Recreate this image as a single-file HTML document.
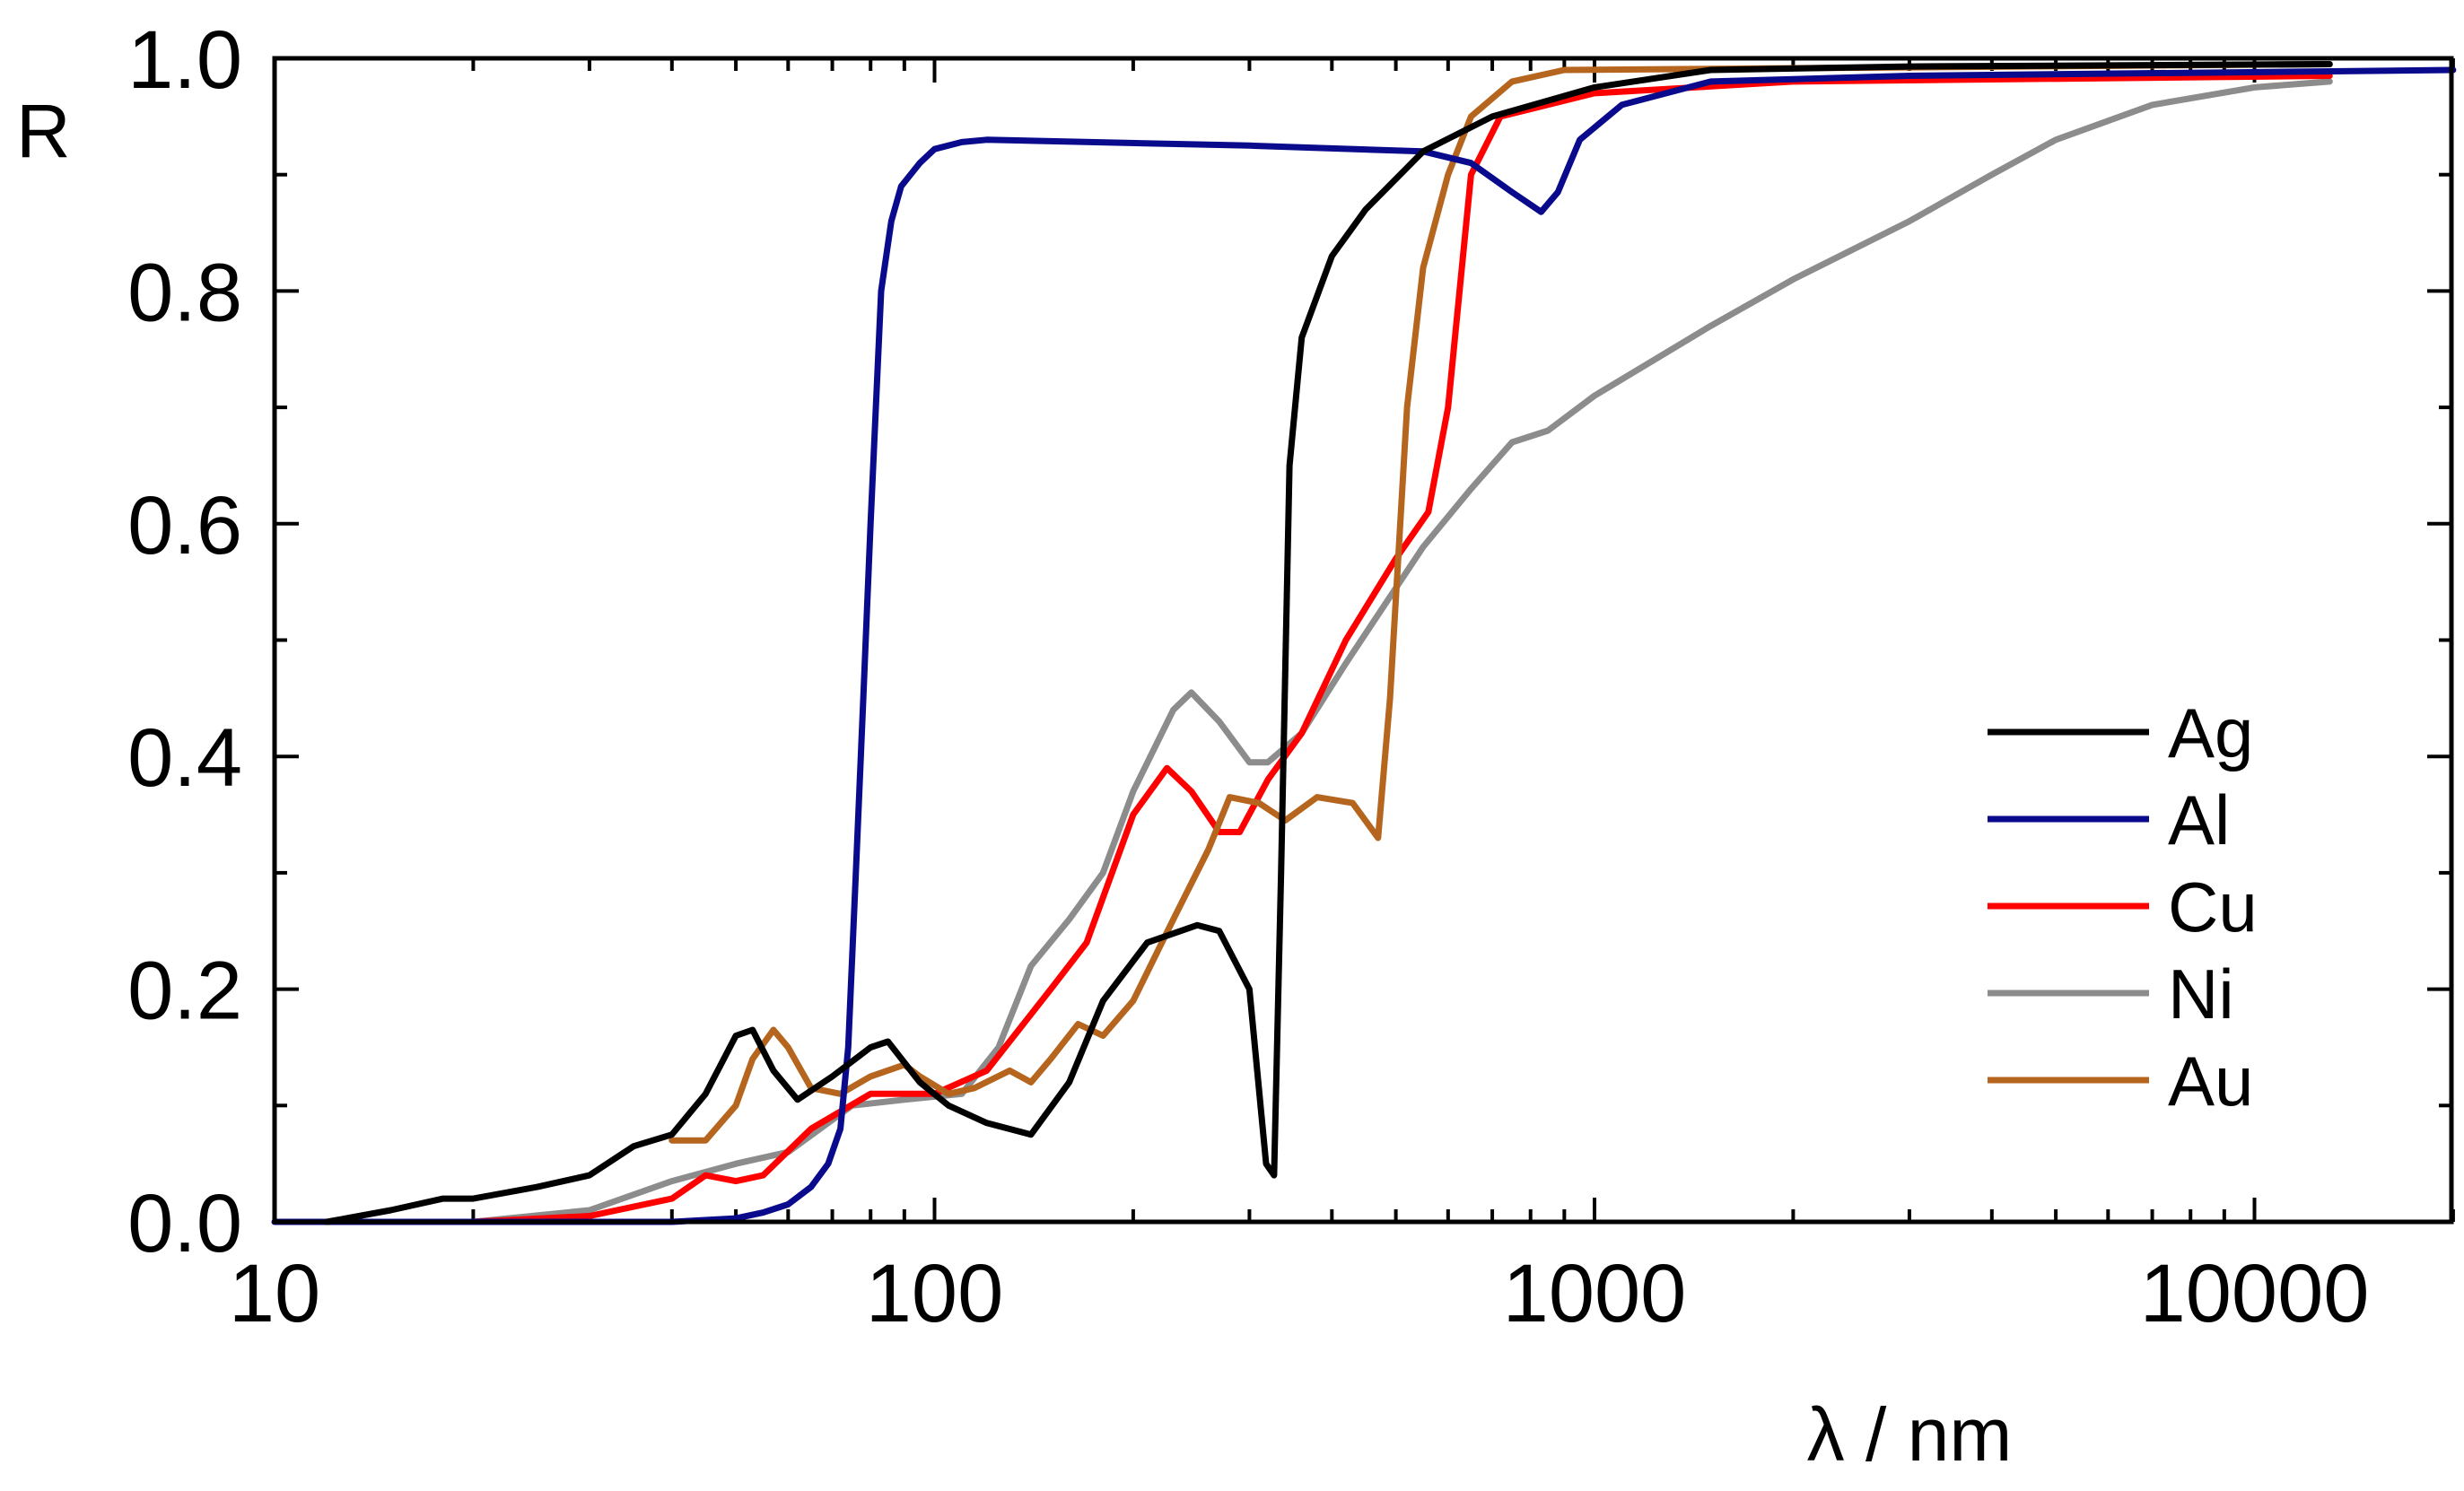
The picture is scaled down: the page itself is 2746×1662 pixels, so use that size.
<!DOCTYPE html>
<html><head><meta charset="utf-8"><style>
html,body{margin:0;padding:0;background:#fff;}
svg{display:block;font-family:"Liberation Sans",Arial,sans-serif;}
</style></head><body>
<svg id="chart" width="2746" height="1662" viewBox="0 0 2746 1662">
<g id="ticks"></g>
<g id="series"></g>
<rect x="306" y="65" width="2426" height="1297" fill="none" stroke="#000" stroke-width="5"/>
<g id="labels"></g>
<text x="18" y="175" font-size="84">R</text>
<text x="2128" y="1628" font-size="84" text-anchor="middle">λ / nm</text>
<g id="legend"></g>
</svg>
<script>
const seriesNames = ["Ag","Al","Cu","Ni","Au"];
const seriesColors = ["#000000","#0a0a8c","#ff0000","#8c8c8c","#b5651d"];
const agX = [12,15,18,20,25,30,35,40,45,50,53,57,62,70,80,85,95,105,120,140,160,180,210,250,270,300,318,327,335,345,360,400,450,550,700,1000,1500,3000,13000];
const agY = [0,0.01,0.02,0.02,0.03,0.04,0.065,0.075,0.11,0.16,0.165,0.13,0.105,0.125,0.15,0.155,0.12,0.1,0.085,0.075,0.12,0.19,0.24,0.255,0.25,0.2,0.05,0.04,0.3,0.65,0.76,0.83,0.87,0.92,0.95,0.975,0.99,0.993,0.995];
const alX = [10,40,50,55,60,65,69,72,74,76,78,80,83,86,89,95,100,110,120,300,550,650,750,830,880,950,1100,1500,3000,20000];
const alY = [0,0,0.003,0.008,0.015,0.03,0.05,0.08,0.15,0.3,0.45,0.6,0.8,0.86,0.89,0.91,0.922,0.928,0.93,0.925,0.92,0.91,0.885,0.868,0.885,0.93,0.96,0.98,0.985,0.99];
const cuX = [20,30,40,45,50,55,65,80,100,120,150,170,200,225,245,270,290,320,360,420,500,560,600,650,720,1000,2000,13000];
const cuY = [0,0.005,0.02,0.04,0.035,0.04,0.08,0.11,0.11,0.13,0.2,0.24,0.35,0.39,0.37,0.335,0.335,0.38,0.42,0.5,0.57,0.61,0.7,0.9,0.95,0.97,0.98,0.985];
const niX = [20,30,40,50,60,75,90,110,125,140,160,180,200,230,245,270,300,320,360,420,550,650,750,850,1000,1500,2000,3000,4000,5000,7000,10000,13000];
const niY = [0,0.01,0.035,0.05,0.06,0.1,0.105,0.11,0.15,0.22,0.26,0.3,0.37,0.44,0.455,0.43,0.395,0.395,0.42,0.48,0.58,0.63,0.67,0.68,0.71,0.77,0.81,0.86,0.9,0.93,0.96,0.975,0.98];
const auX = [40,45,50,53,57,60,65,72,80,90,95,105,115,130,140,150,165,180,200,230,260,280,310,340,380,430,470,490,520,550,600,650,750,900,13000];
const auY = [0.07,0.07,0.1,0.14,0.165,0.15,0.115,0.11,0.125,0.135,0.125,0.11,0.115,0.13,0.12,0.14,0.17,0.16,0.19,0.26,0.32,0.365,0.36,0.345,0.365,0.36,0.33,0.45,0.7,0.82,0.9,0.95,0.98,0.99,0.995];
const yTicks = [0,0.2,0.4,0.6,0.8,1.0];
const yTickLabels = ["0.0","0.2","0.4","0.6","0.8","1.0"];
const xTicks = [10,100,1000,10000];
const xTickLabels = ["10","100","1000","10000"];

const NS="http://www.w3.org/2000/svg";
const L=306,R=2732,T=65,B=1362;
const dec=735.5;
function sx(v){return L+(Math.log10(v)-1)*dec;}
function sy(v){return B-v*(B-T);}
function mk(tag,attrs,parent){const e=document.createElementNS(NS,tag);for(const k in attrs)e.setAttribute(k,attrs[k]);parent.appendChild(e);return e;}

const tg=document.getElementById('ticks');
const lg=document.getElementById('labels');
for(let i=0;i<=10;i++){
  const v=i/10, y=sy(v), len=(i%2===0)?27:14;
  const t1=mk('line',{x1:L,x2:L+len,y1:y,y2:y,stroke:'#000','stroke-width':4},tg);
  
  
  const t2=mk('line',{x1:R,x2:R-len,y1:y,y2:y,stroke:'#000','stroke-width':4},tg);
  
  
}
yTicks.forEach((v,i)=>{
  const t=mk('text',{x:270,y:sy(v)+33,'font-size':92,'text-anchor':'end'},lg);
  t.textContent=yTickLabels[i];
  
  
});
for(let d=1;d<=4;d++){
  for(let m=1;m<=9;m++){
    const v=m*Math.pow(10,d); if(v>20000)break;
    const x=sx(v), len=(m===1)?27:14;
    const a=mk('line',{x1:x,x2:x,y1:B,y2:B-len,stroke:'#000','stroke-width':4},tg);
    
    
    const b=mk('line',{x1:x,x2:x,y1:T,y2:T+len,stroke:'#000','stroke-width':4},tg);
    
    
  }
}
xTicks.forEach((v,i)=>{
  const t=mk('text',{x:sx(v),y:1473,'font-size':92,'text-anchor':'middle'},lg);
  t.textContent=xTickLabels[i];
  
  
});
const sg=document.getElementById('series');
const xs=[agX,alX,cuX,niX,auX], ys=[agY,alY,cuY,niY,auY];
const order=[3,2,4,1,0];
order.forEach(k=>{
  const d=xs[k].map((x,i)=>(i?'L':'M')+sx(x).toFixed(1)+','+sy(ys[k][i]).toFixed(1)).join(' ');
  const p=mk('path',{d:d,fill:'none',stroke:seriesColors[k],'stroke-width':7,'stroke-linejoin':'round','stroke-linecap':'round'},sg);
  
  
});
const leg=document.getElementById('legend');
seriesNames.forEach((n,i)=>{
  const y=816+i*97;
  const l=mk('line',{x1:2215,x2:2395,y1:y,y2:y,stroke:seriesColors[i],'stroke-width':7},leg);
  
  
  const t=mk('text',{x:2416,y:y+28,'font-size':78},leg);
  t.textContent=n;
  
  
});
</script>
</body></html>
